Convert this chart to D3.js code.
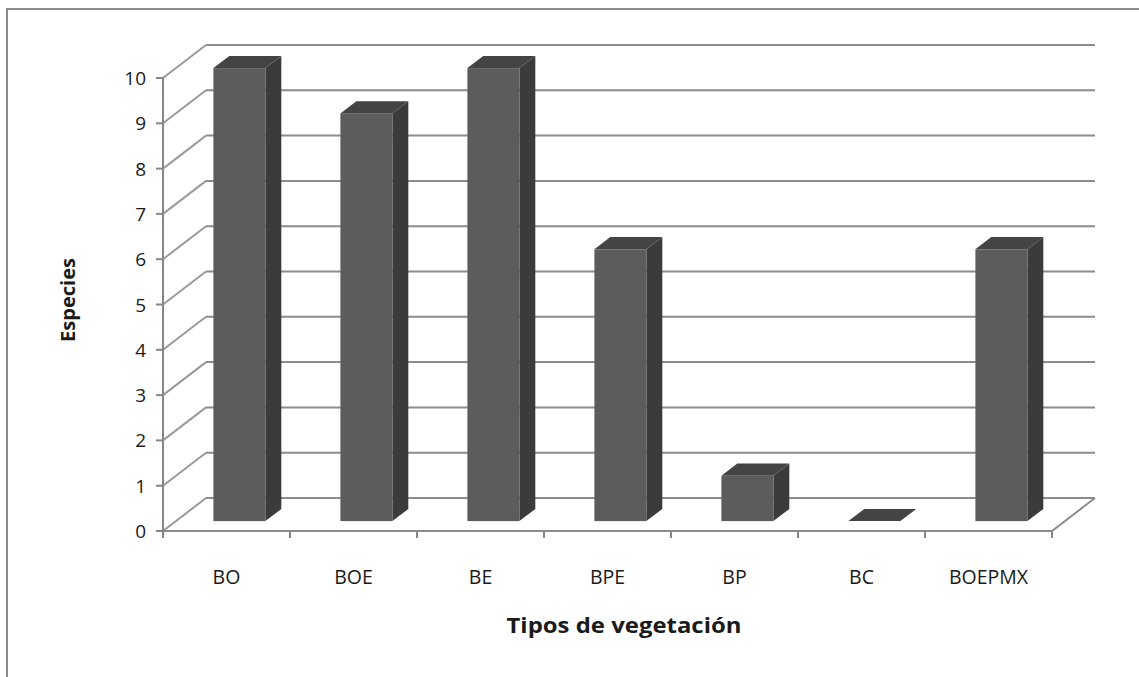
<!DOCTYPE html>
<html>
<head>
<meta charset="utf-8">
<script src="https://cdn.jsdelivr.net/npm/d3@7"></script>
<style>
  body { margin: 0; background: #fff; }
  text { font-family: "Open Sans", "Liberation Sans", sans-serif; fill: #1a1a1a; }
</style>
</head>
<body>
<script>
// datos
var categorias = ["BO", "BOE", "BE", "BPE", "BP", "BC", "BOEPMX"];
var especies = [10, 9, 10, 6, 1, 0, 6];
var ticksY = [0, 1, 2, 3, 4, 5, 6, 7, 8, 9, 10];

var W = 1139, H = 677;
var svg = d3.select("body").append("svg")
  .attr("width", W)
  .attr("height", H);

// marco exterior
svg.append("rect")
  .attr("x", 7).attr("y", 9)
  .attr("width", 1200).attr("height", 800)
  .attr("fill", "none")
  .attr("stroke", "#8a8a8a")
  .attr("stroke-width", 2);

// escalas
var x = d3.scaleBand()
  .domain(categorias)
  .range([163, 1052])
  .paddingInner(0).paddingOuter(0);

var y = d3.scaleLinear()
  .domain([0, 10])
  .range([531, 78]);

// profundidad (pared del fondo)
var dx = 43, dy = -33;
var gridColor = "#8c8c8c";

// lineas de la pared lateral y del fondo
var grid = svg.append("g");
ticksY.forEach(function(t) {
  grid.append("line")
    .attr("x1", 163).attr("y1", y(t))
    .attr("x2", 163 + dx).attr("y2", y(t) + dy)
    .attr("stroke", "#9a9a9a").attr("stroke-width", 2);
  grid.append("line")
    .attr("x1", 163 + dx).attr("y1", y(t) + dy)
    .attr("x2", x.range()[1] + dx).attr("y2", y(t) + dy)
    .attr("stroke", gridColor).attr("stroke-width", 2);
});

// piso
grid.append("path")
  .attr("d", "M163," + y(0) + "L" + x.range()[1] + "," + y(0) +
    "L" + (x.range()[1] + dx) + "," + (y(0) + dy))
  .attr("fill", "none")
  .attr("stroke", gridColor).attr("stroke-width", 2);

// eje y
var ejeY = svg.append("g");
ejeY.append("line")
  .attr("x1", 163).attr("y1", y(10))
  .attr("x2", 163).attr("y2", y(0))
  .attr("stroke", "#868686").attr("stroke-width", 2);
ejeY.selectAll(".tk")
  .data(ticksY)
  .enter().append("line")
  .attr("x1", 156).attr("x2", 163)
  .attr("y1", function(d) { return y(d); })
  .attr("y2", function(d) { return y(d); })
  .attr("stroke", "#868686").attr("stroke-width", 2);
ejeY.selectAll("text")
  .data(ticksY)
  .enter().append("text")
  .attr("x", 146)
  .attr("y", function(d) { return y(d) + 7; })
  .attr("text-anchor", "end")
  .attr("font-size", "19px")
  .text(function(d) { return d; });

// eje x
var ejeX = svg.append("g");
var bordes = x.domain().map(function(c) { return x(c); }).concat([x.range()[1]]);
ejeX.selectAll("line")
  .data(bordes)
  .enter().append("line")
  .attr("x1", function(d) { return d; })
  .attr("x2", function(d) { return d; })
  .attr("y1", y(0)).attr("y2", y(0) + 7)
  .attr("stroke", "#868686").attr("stroke-width", 2);
ejeX.selectAll("text")
  .data(categorias)
  .enter().append("text")
  .attr("x", function(d) { return x(d) + x.bandwidth() / 2; })
  .attr("y", 584)
  .attr("text-anchor", "middle")
  .attr("font-size", "19.5px")
  .text(function(d) { return d; });

// barras 3D
var f1 = 0.3, f2 = 0.67;
var barW = 52;
var barras = svg.append("g");
categorias.forEach(function(c, i) {
  var v = especies[i];
  var x0 = x(c) + (x.bandwidth() - barW) / 2 + dx * f1;
  var x1 = x0 + barW;
  var yb = y(0) + dy * f1;
  var yt = y(v) + dy * f1;
  var ox = dx * (f2 - f1), oy = dy * (f2 - f1);
  // lado
  barras.append("path")
    .attr("d", "M" + x1 + "," + yb + "L" + (x1 + ox) + "," + (yb + oy) +
      "L" + (x1 + ox) + "," + (yt + oy) + "L" + x1 + "," + yt + "Z")
    .attr("fill", "#3b3b3b");
  // frente
  barras.append("rect")
    .attr("x", x0).attr("y", yt)
    .attr("width", barW).attr("height", yb - yt)
    .attr("fill", "#5c5c5c");
  // tapa
  barras.append("path")
    .attr("d", "M" + x0 + "," + yt + "L" + x1 + "," + yt +
      "L" + (x1 + ox) + "," + (yt + oy) + "L" + (x0 + ox) + "," + (yt + oy) + "Z")
    .attr("fill", "#444444");
});

// titulos de ejes
svg.append("text")
  .attr("x", 624).attr("y", 633)
  .attr("text-anchor", "middle")
  .attr("font-size", "22px")
  .attr("font-weight", "bold")
  .attr("textLength", 235)
  .attr("lengthAdjust", "spacingAndGlyphs")
  .text("Tipos de vegetación");

svg.append("text")
  .attr("transform", "translate(75,300) rotate(-90)")
  .attr("text-anchor", "middle")
  .attr("font-size", "20px")
  .attr("font-weight", "bold")
  .text("Especies");
</script>
</body>
</html>
